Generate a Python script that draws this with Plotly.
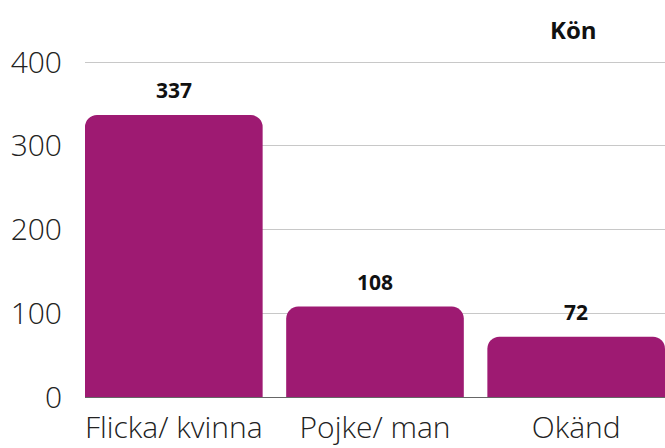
import plotly.graph_objects as go

categories = ["Flicka/ kvinna", "Pojke/ man", "Okänd"]
values = [337, 108, 72]
y_ticks = [0, 100, 200, 300, 400]

color = "#9E1A72"

fig = go.Figure()
fig.add_trace(go.Bar(
    x=categories, y=values,
    marker=dict(color=color, cornerradius=12, line=dict(width=0)),
    hoverinfo="skip",
))
for c, v in zip(categories, values):
    fig.add_annotation(x=c, y=v, text=f"<b>{v}</b>", showarrow=False,
                       xanchor="center", yanchor="middle",
                       yshift=25, font=dict(family="Open Sans", size=21, color="#111"))

fig.add_annotation(xref="paper", yref="paper", x=0.843, y=1.0, yshift=32,
                   xanchor="center", yanchor="middle",
                   text="<b>Kön</b>", showarrow=False,
                   font=dict(family="Open Sans", size=24, color="#111"))

fig.update_layout(
    width=665, height=448,
    margin=dict(l=85, r=0, t=61, b=51),
    plot_bgcolor="white", paper_bgcolor="white",
    bargap=0.117,
    showlegend=False,
    xaxis=dict(range=[-0.4415, 2.4415], showgrid=False, showline=True, linecolor="#666", linewidth=1,
               ticks="", tickfont=dict(family="Open Sans", size=30, color="#222", weight=300),
               ticklabelstandoff=4),
    yaxis=dict(range=[0, 401.5], tickvals=y_ticks, showgrid=True, gridcolor="#c8c8c8",
               zeroline=False, showline=False, ticks="",
               tickfont=dict(family="Open Sans", size=30, color="#222", weight=300),
               ticklabelstandoff=22),
)
fig.write_html("out.html", config={"displayModeBar": False},
               post_script="document.body.style.margin='0';document.body.style.padding='0';")
